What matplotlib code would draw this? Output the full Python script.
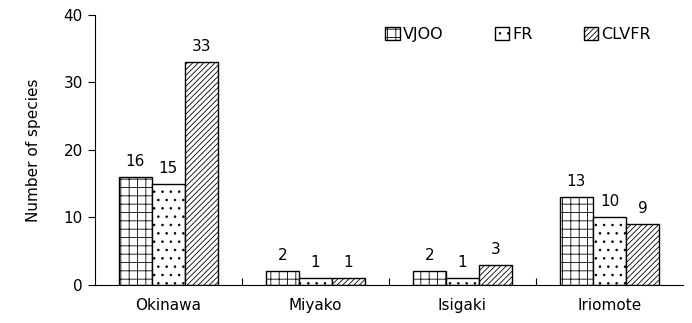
import numpy as np
import matplotlib.pyplot as plt

islands = ["Okinawa", "Miyako", "Isigaki", "Iriomote"]
vjoo = [16, 2, 2, 13]
fr = [15, 1, 1, 10]
clvfr = [33, 1, 3, 9]

plt.rcParams['hatch.linewidth'] = 0.6

fig = plt.figure(figsize=(6.92, 3.23), dpi=100)
ax = fig.add_axes([0.137, 0.118, 0.85, 0.836])

x = np.arange(len(islands)) + 0.5
w = 0.225
series = [(vjoo, "VJOO", "++"), (fr, "FR", ".."), (clvfr, "CLVFR", "//////")]
for i, (vals, name, hatch) in enumerate(series):
    bars = ax.bar(x + (i - 1) * w, vals, w, color="white", edgecolor="black",
                  linewidth=1.0, hatch=hatch, label=name)
    for b, v in zip(bars, vals):
        ax.text(b.get_x() + b.get_width() / 2, v + 1.2, str(v),
                ha="center", va="bottom", fontsize=11)

ax.set_xlim(0, 4)
ax.set_ylim(0, 40)
ax.set_yticks([0, 10, 20, 30, 40])
ax.tick_params(axis="y", labelsize=11, direction="out", length=5)
ax.set_xticks([1, 2, 3])
ax.set_xticklabels([])
ax.tick_params(axis="x", direction="in", length=5)
for xi, name in zip(x, islands):
    ax.text(xi, -3.0, name, ha="center", va="center", fontsize=11)
ax.spines["top"].set_visible(False)
ax.spines["right"].set_visible(False)
ax.set_ylabel("Number of species", fontsize=11, labelpad=16)

ax.legend(loc="upper right", bbox_to_anchor=(0.97, 1.01), ncol=3, frameon=False,
          fontsize=11.5, handlelength=0.9, handleheight=0.9, handletextpad=0.2,
          columnspacing=3.2)

fig.savefig("out.png", dpi=100)
